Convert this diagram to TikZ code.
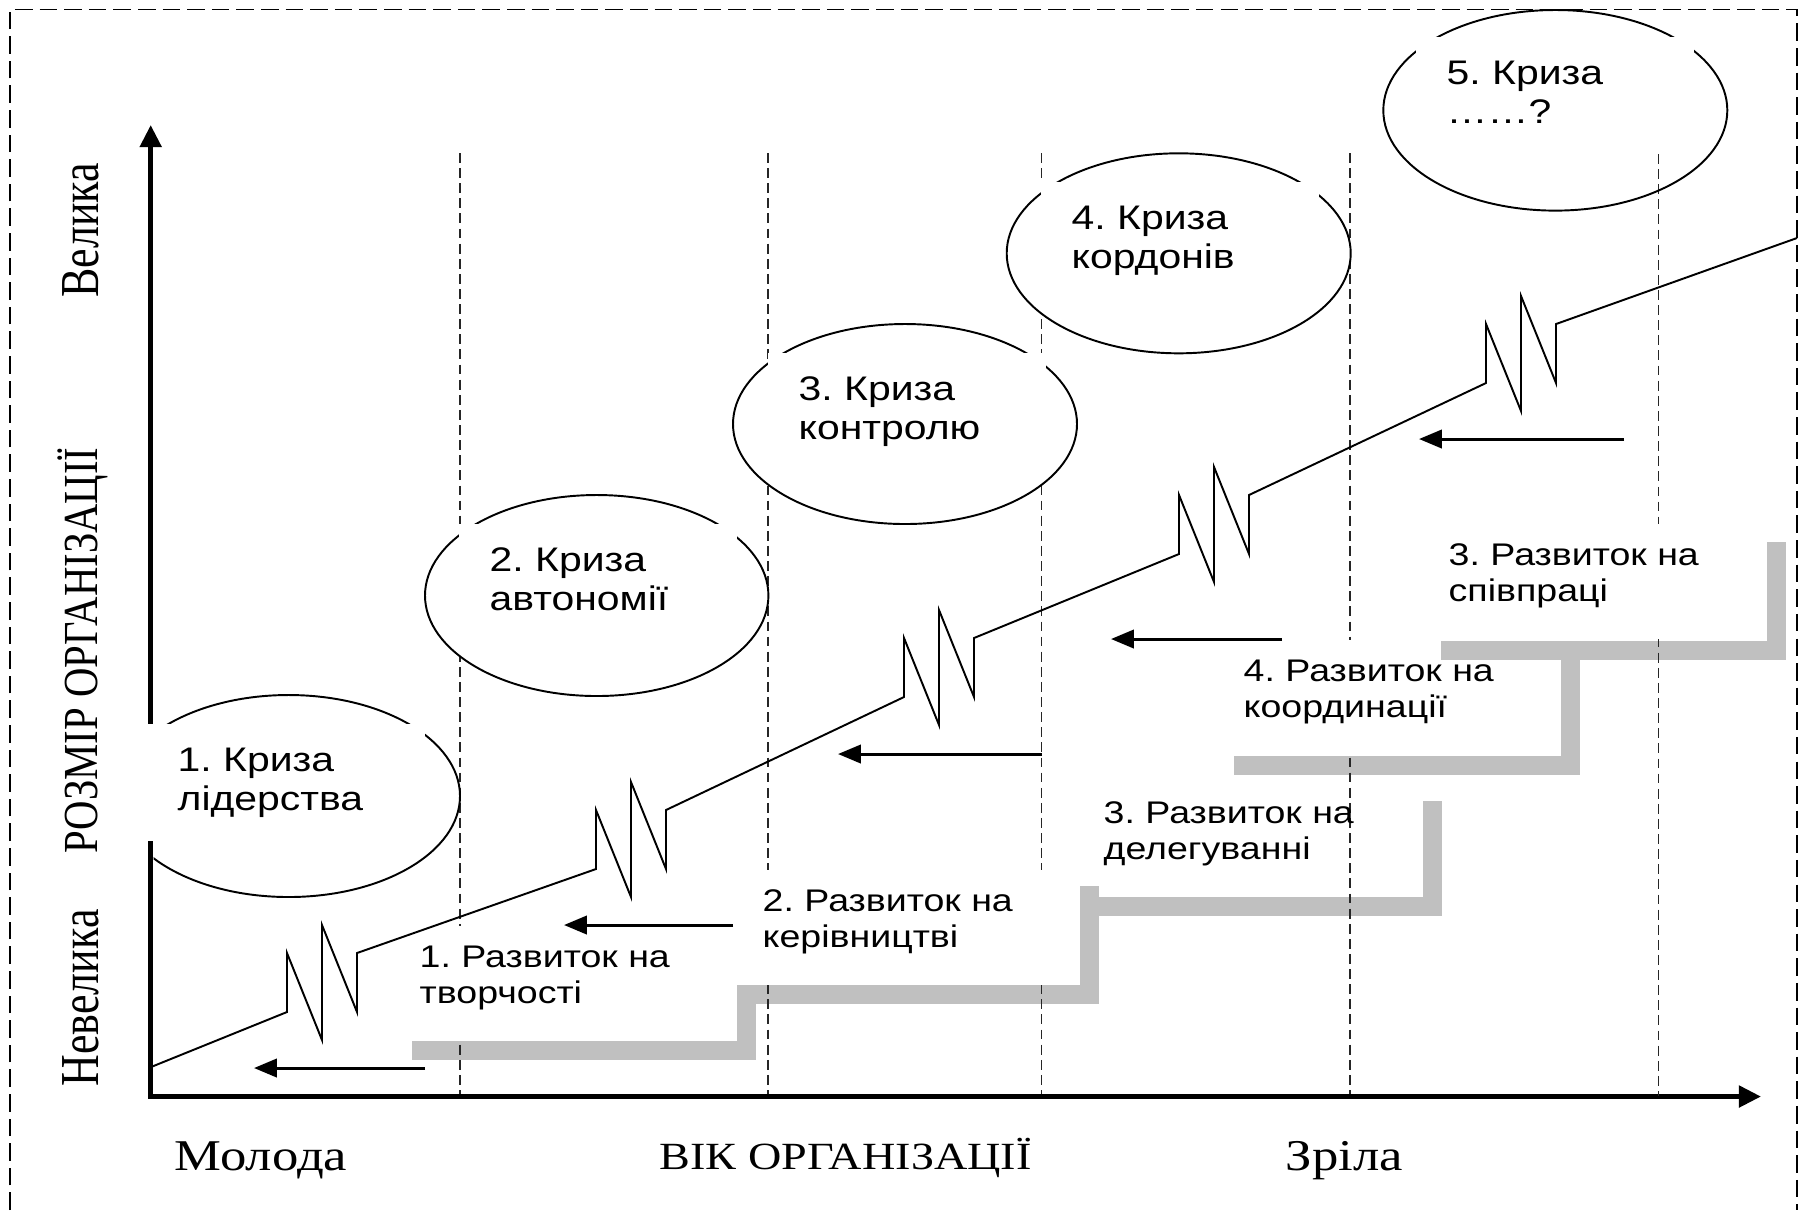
\documentclass[tikz,border=0pt]{standalone}
\usepackage{graphicx}
\usepackage{fontspec}
\setmainfont{Liberation Serif}
\newfontfamily\crisisfont{Liberation Sans}[FakeStretch=1.2]
\newfontfamily\serifwide{Liberation Serif}[FakeStretch=1.2]
\newfontfamily\serifplain{Liberation Serif}
\usetikzlibrary{arrows.meta}
\definecolor{stepgray}{RGB}{192,192,192}

\tikzset{
  frame/.style={line width=0.45pt, dash pattern=on 5pt off 2pt},
  mainaxis/.style={line width=1.4pt, -{Triangle[length=6.3pt,width=6pt]}},
  phaseline/.style={black!85, line width=0.5pt, dash pattern=on 2.8pt off 1.5pt},
  growth/.style={line width=0.55pt, line join=miter},
  oval/.style={line width=0.55pt, fill=white},
  backarrow/.style={line width=0.85pt, -{Triangle[length=6.5pt,width=5.2pt]}},
  stair/.style={stepgray, line width=1.9mm, line join=miter},
  crisis/.style={fill=white, anchor=north west, inner xsep=3.1mm, inner ysep=2.23mm,
    text height=2.5mm, text depth=4.74mm, text width=21.6mm, align=left,
    font=\crisisfont\fontsize{9.7}{11.2}\selectfont},
  growthbox/.style={fill=white, anchor=north west, inner xsep=3.1mm, inner ysep=1.95mm,
    text height=2.25mm, text depth=5.35mm, text width=25.6mm, align=left,
    font=\crisisfont\fontsize{8.9}{10.25}\selectfont},
  endlabel/.style={anchor=base west, inner sep=0pt, font=\serifwide\fontsize{12.5}{15}\selectfont},
  titlelabel/.style={anchor=base west, inner sep=0pt, font=\serifwide\fontsize{10.95}{13}\selectfont},
  sidelabel/.style={rotate=90, anchor=base west, inner sep=0pt, font=\serifplain\fontsize{12.5}{15}\selectfont},
}

\begin{document}
\frenchspacing
\begin{tikzpicture}[x=0.1mm, y=-0.1mm]
\useasboundingbox (0,0) rectangle (1806,1210);

\draw[frame] (10,1210) -- (10,9.5) -- (1797,9.5) -- (1797,1210);

\draw[stair] (412,1050) -- (746.5,1050) -- (746.5,985);
\draw[stair] (756,994) -- (1089.5,994) -- (1089.5,886);
\draw[stair] (1098,906) -- (1432,906) -- (1432,801);
\draw[stair] (1234,765.5) -- (1570,765.5) -- (1570,657);

\draw[phaseline] (460,153) -- (460,1096);
\draw[phaseline] (768,153) -- (768,1096);
\draw[phaseline] (1041.5,153) -- (1041.5,1096);
\draw[phaseline] (1350,153) -- (1350,1096);

\draw[mainaxis] (150.7,1098.5) -- (150.7,125);
\draw[mainaxis] (148.3,1096.5) -- (1761,1096.5);

\node[growthbox] (d1) at (388,925) {1. Развиток на\\творчості};
\node[growthbox] (d2) at (731,869) {2. Развиток на\\керівництві};
\node[growthbox, fill=none] (d3) at (1072,781) {3. Развиток на\\делегуванні};
\node[growthbox] (d4) at (1212,639) {4. Развиток на\\координації};

\draw[stair] (1441,650) -- (1776,650) -- (1776,542);
\draw[phaseline] (1658.5,154) -- (1658.5,1096);
\node[growthbox] (d5) at (1417,523) {3. Развиток на\\співпраці};

\begin{scope}
  \clip (153.5,650) rectangle (520,950);
  \draw[oval] (288.6,796) ellipse [x radius=17.14mm, y radius=10.1mm];
\end{scope}
\draw[oval] (596.7,595.5) ellipse [x radius=17.17mm, y radius=10.05mm];
\draw[oval] (905,424) ellipse [x radius=17.2mm, y radius=10mm];
\draw[oval] (1178.7,253.3) ellipse [x radius=17.2mm, y radius=10mm];
\draw[oval, fill=none] (1555.3,110.3) ellipse [x radius=17.2mm, y radius=10.03mm];

\node[crisis] (c1) at (146,723) {1. Криза\\лідерства};
\node[crisis] (c2) at (458,523) {2. Криза\\автономії};
\node[crisis] (c3) at (767,352) {3. Криза\\контролю};
\node[crisis] (c4) at (1040,181) {4. Криза\\кордонів};
\node[crisis] (c5) at (1415,36) {5. Криза\\……?};

\draw[growth] (151,1067) -- (287,1012) -- (287,953) -- (322,1040) -- (322,925) -- (357,1012) -- (357,953)
  -- (596,869) -- (596,810) -- (631,897) -- (631,782) -- (666,869) -- (666,810)
  -- (904,697) -- (904,638) -- (939,725) -- (939,610) -- (974,697) -- (974,638)
  -- (1179,554) -- (1179,495) -- (1214,582) -- (1214,467) -- (1249,554) -- (1249,495)
  -- (1486,383) -- (1486,324) -- (1521,411) -- (1521,296) -- (1556,383) -- (1556,324)
  -- (1797,238);

\draw[backarrow] (425,1068) -- (254,1068);
\draw[backarrow] (733,925) -- (564,925);
\draw[backarrow] (1042,754) -- (838,754);
\draw[backarrow] (1282,639) -- (1111,639);
\draw[backarrow] (1624,439) -- (1419,439);

\node[endlabel] (young) at (174,1170) {Молода};
\node[titlelabel] (age) at (659,1169) {ВІК ОРГАНІЗАЦІЇ};
\node[endlabel] (mature) at (1285,1170) {Зріла};

\node[sidelabel] (big) at (98,298) {\scalebox{1}[1.25]{Велика}};
\node[sidelabel, font=\serifplain\fontsize{11.6}{14}\selectfont] (size) at (97,854) {\scalebox{1}[1.2]{РОЗМІР ОРГАНІЗАЦІЇ}};
\node[sidelabel] (small) at (98,1087) {\scalebox{1}[1.25]{Невелика}};
\end{tikzpicture}
\end{document}
